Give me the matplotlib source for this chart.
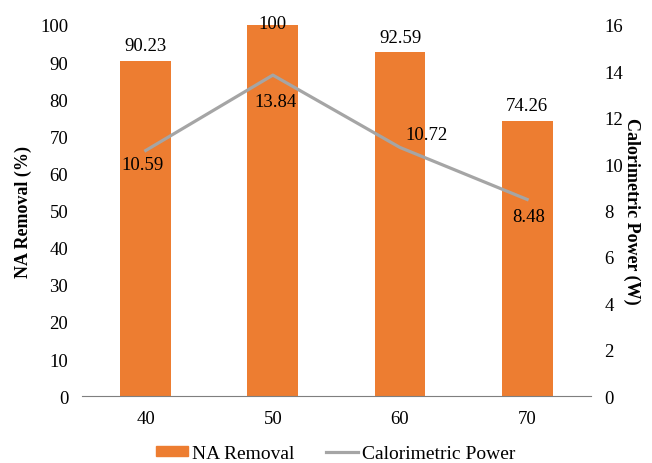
import matplotlib.pyplot as plt
from matplotlib.patches import Patch
from matplotlib.lines import Line2D

plt.rcParams['font.family'] = ['Liberation Serif', 'DejaVu Serif']

# data
temps = ['40', '50', '60', '70']
na_removal = [90.23, 100, 92.59, 74.26]
cal_power = [10.59, 13.84, 10.72, 8.48]

orange = '#ED7D31'
grey = '#A5A5A5'

fig = plt.figure(figsize=(6.52, 4.64), dpi=100)
ax = fig.add_axes([0.126, 0.144, 0.78, 0.80])
x = range(len(temps))

ax.bar(x, na_removal, width=0.4, color=orange, zorder=2)
ax.set_ylim(0, 100)
ax.set_xlim(-0.5, len(temps) - 0.5)
ax.set_yticks(range(0, 101, 10))
ax.set_xticks(list(x))
ax.set_xticklabels(temps)
ax.set_ylabel('NA Removal (%)', fontsize=13, fontweight='bold', labelpad=6)

bar_offsets = [(0, 5), (0, -5), (0, 5), (0, 5)]
for i, v in enumerate(na_removal):
    ax.annotate(f'{v:g}', (i, v), xytext=bar_offsets[i], textcoords='offset points',
                ha='center', va='bottom', fontsize=13.5, annotation_clip=False)

ax2 = ax.twinx()
ax2.plot(list(x), cal_power, color=grey, linewidth=2.3, zorder=3)
ax2.set_ylim(0, 16)
ax2.set_yticks(range(0, 17, 2))
ax2.set_ylabel('Calorimetric Power (W)', fontsize=13, fontweight='bold',
               rotation=270, labelpad=12)

line_offsets = [(-2, -4, 'top'), (2, -13, 'top'), (19, 3, 'bottom'), (1, -6, 'top')]
for i, v in enumerate(cal_power):
    dx, dy, va = line_offsets[i]
    ax2.annotate(f'{v:g}', (i, v), xytext=(dx, dy), textcoords='offset points',
                 ha='center', va=va, fontsize=13.5)

for a in (ax, ax2):
    for s in ('top', 'left', 'right'):
        a.spines[s].set_visible(False)
    a.tick_params(length=0, labelsize=13.5, pad=10)
ax.spines['bottom'].set_color('#7f7f7f')
ax2.spines['bottom'].set_visible(False)

handles = [Patch(color=orange, label='NA Removal'),
           Line2D([0], [0], color=grey, linewidth=2.3, label='Calorimetric Power')]
fig.legend(handles=handles, loc='lower center', bbox_to_anchor=(0.515, -0.035),
           ncol=2, frameon=False, fontsize=14, handlelength=1.65, handleheight=0.45,
           columnspacing=1.6, handletextpad=0.2)

fig.savefig('out.png', dpi=100)
